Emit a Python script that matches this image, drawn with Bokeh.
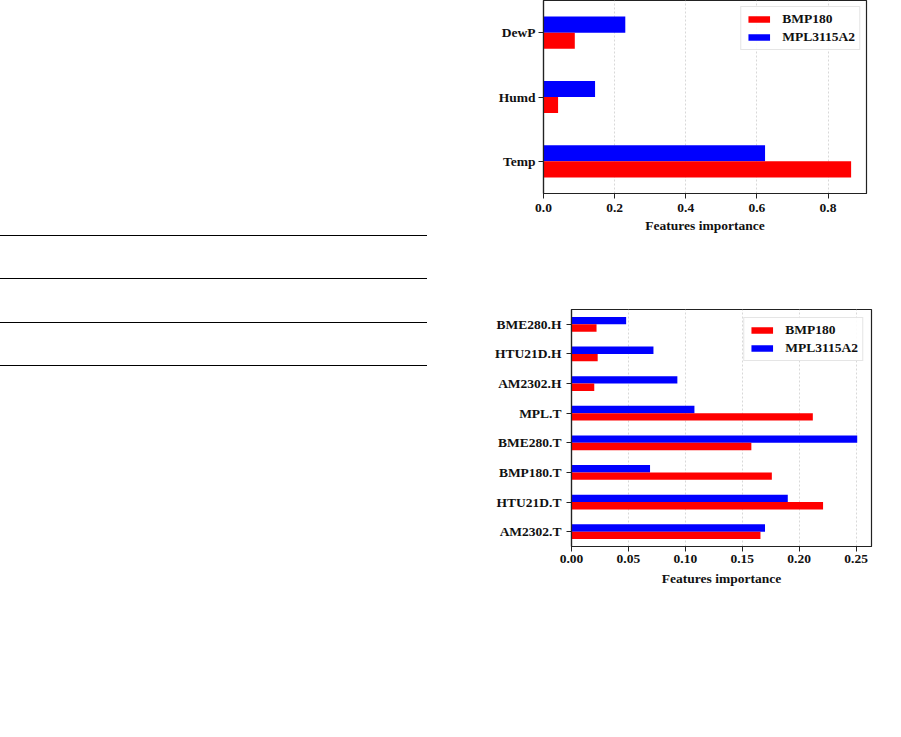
from bokeh.plotting import figure
from bokeh.layouts import row
from bokeh.models import (ColumnDataSource, FixedTicker, Legend, LegendItem,
                          Range1d, Div)
from bokeh.transform import dodge
from bokeh.embed import file_html
from bokeh.resources import INLINE

# ---------------- data ----------------
series = ["BMP180", "MPL3115A2"]
series_colors = ["#ff0000", "#0000ff"]

top_features = ["Temp", "Humd", "DewP"]
top_bmp180 = [0.865, 0.041, 0.088]
top_mpl3115a2 = [0.623, 0.145, 0.230]
top_xticks = [0.0, 0.2, 0.4, 0.6, 0.8]
top_xlabels = ["0.0", "0.2", "0.4", "0.6", "0.8"]

bottom_features = ["AM2302.T", "HTU21D.T", "BMP180.T", "BME280.T",
                   "MPL.T", "AM2302.H", "HTU21D.H", "BME280.H"]
bottom_bmp180 = [0.166, 0.221, 0.176, 0.158, 0.212, 0.020, 0.023, 0.022]
bottom_mpl3115a2 = [0.170, 0.190, 0.069, 0.251, 0.108, 0.093, 0.072, 0.048]
bottom_xticks = [0.0, 0.05, 0.10, 0.15, 0.20, 0.25]
bottom_xlabels = ["0.00", "0.05", "0.10", "0.15", "0.20", "0.25"]

x_label = "Features importance"

# decorative page rules on the left (table lines of the scanned page), page px
page_rule_y = [235, 278, 322, 365]
page_rule_len = 427

FONT = "Liberation Serif"
TEXT = "#111111"


def make_chart(features, bmp, mpl, xticks, xlabels, width, height,
               borders, legend_margin, tick_standoff, label_standoff,
               y_standoff):
    n = len(features)
    src = ColumnDataSource(dict(pos=list(range(n)), bmp=bmp, mpl=mpl))
    xmax = max(max(bmp), max(mpl)) * 1.05
    p = figure(width=width, height=height, output_backend="svg",
               toolbar_location=None,
               x_range=Range1d(0, xmax), y_range=Range1d(-0.5, n - 0.5),
               min_border_left=borders[0], min_border_right=borders[1],
               min_border_top=borders[2], min_border_bottom=borders[3])
    r_mpl = p.hbar(y=dodge("pos", 0.125), right="mpl", left=0, height=0.25,
                   source=src, fill_color=series_colors[1], line_color=None)
    r_bmp = p.hbar(y=dodge("pos", -0.125), right="bmp", left=0, height=0.25,
                   source=src, fill_color=series_colors[0], line_color=None)

    p.outline_line_color = "#222222"
    p.outline_line_width = 1.2
    p.background_fill_color = "white"
    p.border_fill_color = "white"

    p.ygrid.visible = False
    p.xgrid.grid_line_color = "#d8d8d8"
    p.xgrid.grid_line_dash = "2 2"
    p.xgrid.grid_line_width = 1

    p.xaxis.ticker = FixedTicker(ticks=xticks)
    p.xaxis.major_label_overrides = {t: l for t, l in zip(xticks, xlabels)}
    p.yaxis.ticker = FixedTicker(ticks=list(range(n)))
    p.yaxis.major_label_overrides = {i: f for i, f in enumerate(features)}

    for ax in (p.xaxis[0], p.yaxis[0]):
        ax.axis_line_color = "#222222"
        ax.axis_line_width = 1.2
        ax.major_tick_line_color = "#222222"
        ax.major_tick_out = 5
        ax.major_tick_in = 0
        ax.minor_tick_line_color = None
        ax.major_label_text_font = FONT
        ax.major_label_text_font_style = "bold"
        ax.major_label_text_font_size = "13.5px"
        ax.major_label_text_color = TEXT
    p.xaxis.major_label_standoff = tick_standoff
    p.yaxis.major_label_standoff = y_standoff
    p.xaxis.axis_label = x_label
    p.xaxis.axis_label_text_font = FONT
    p.xaxis.axis_label_text_font_style = "bold"
    p.xaxis.axis_label_text_font_size = "13.5px"
    p.xaxis.axis_label_text_color = TEXT
    p.xaxis.axis_label_standoff = label_standoff

    legend = Legend(items=[LegendItem(label=series[0], renderers=[r_bmp]),
                           LegendItem(label=series[1], renderers=[r_mpl])],
                    location="top_right")
    legend.margin = legend_margin
    legend.padding = 4
    legend.spacing = 2
    legend.glyph_width = 27
    legend.glyph_height = 8
    legend.label_height = 12
    legend.label_standoff = 10
    legend.label_text_font = FONT
    legend.label_text_font_style = "bold"
    legend.label_text_font_size = "13.5px"
    legend.label_text_color = TEXT
    legend.border_line_color = "#cccccc"
    legend.border_line_width = 1
    legend.background_fill_color = "white"
    legend.background_fill_alpha = 0.9
    p.add_layout(legend)
    return p


def page_rules(offset, width, height):
    """Blank page strip holding the horizontal rules that fall inside it."""
    ys = [y - offset for y in page_rule_y if offset <= y < offset + height]
    inner = "".join(
        f"<div style='position:absolute;left:0;top:{y}px;width:{page_rule_len}px;"
        f"height:0;border-top:1.3px solid #000'></div>" for y in ys)
    html = (f"<div style='position:relative;width:{width}px;height:{height}px;"
            f"margin:0;padding:0'>{inner}</div>")
    return Div(text=html, width=width, height=height,
               styles={"margin": "0", "padding": "0"})


LEFT_W = 448
H1 = 290
H2 = 302

top = make_chart(top_features, top_bmp180, top_mpl3115a2, top_xticks,
                 top_xlabels, width=437, height=H1,
                 borders=(95, 19, 0, H1 - 193), legend_margin=6,
                 tick_standoff=5, label_standoff=3, y_standoff=3)

bottom = make_chart(bottom_features, bottom_bmp180, bottom_mpl3115a2,
                    bottom_xticks, bottom_xlabels, width=437, height=H2,
                    borders=(123, 14, 309 - H1, H2 - (546 - H1)),
                    legend_margin=8, tick_standoff=3, label_standoff=5,
                    y_standoff=5)

root1 = row(page_rules(0, LEFT_W, H1), top)
root2 = row(page_rules(H1, LEFT_W, H2), bottom)

open("out.html", "w").write(file_html([root1, root2], INLINE))
